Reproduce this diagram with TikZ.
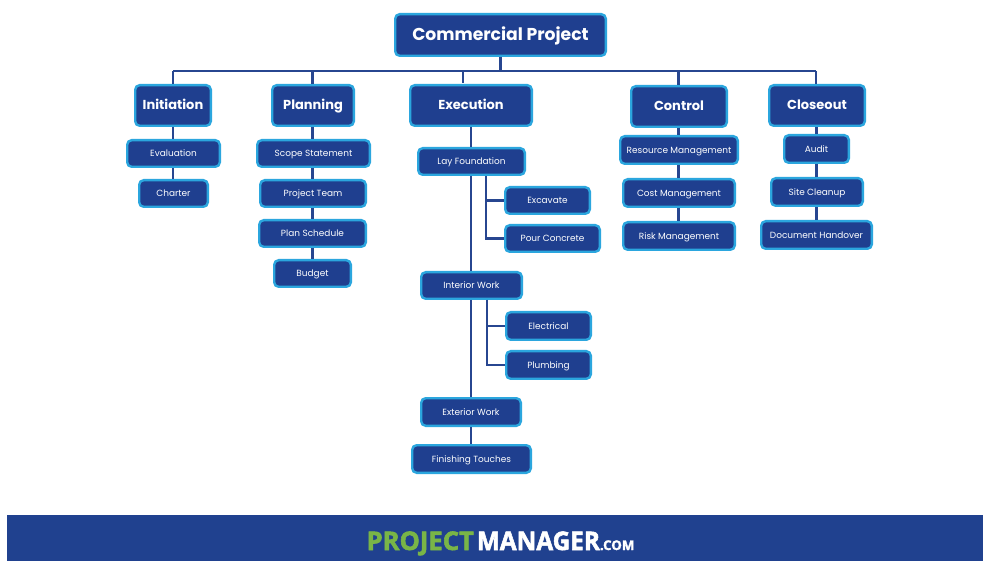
\documentclass[tikz,border=0pt]{standalone}
\usepackage{graphicx}
\usepackage{fontspec}
\setmainfont{Poppins}
\newfontfamily\logofont[BoldFeatures={FakeBold=2.2}]{Open Sans}
\definecolor{boxblue}{HTML}{1F3F8F}
\definecolor{edgeblue}{HTML}{2BA6DE}
\definecolor{linkblue}{HTML}{274690}
\definecolor{logogreen}{HTML}{79B547}
\definecolor{bandblue}{HTML}{20418F}
\tikzset{
  wbsbox/.style={draw=edgeblue,fill=boxblue,line width=2.4pt,rounded corners=4.5pt,text=white,align=center,inner sep=0pt},
  rootbox/.style={wbsbox,font=\fontsize{17.2}{20}\selectfont\bfseries,text height=14.5pt,text depth=4pt},
  phasebox/.style={wbsbox,font=\fontsize{13}{15}\selectfont\bfseries,text height=11.5pt,text depth=3pt},
  taskbox/.style={wbsbox,font=\fontsize{8.95}{10}\selectfont,text height=8.5pt,text depth=2pt},
  link/.style={draw=linkblue,line width=2.2pt},
}
% style, name, x1, y1, x2, y2, text
\newcommand{\bx}[7]{\node[#1,minimum width={(#5-#3-2.4)*1pt},minimum height={(#6-#4-2.4)*1pt}] (#2) at ({(#3+#5)/2},{(#4+#6)/2}) {#7};}
\begin{document}
\begin{tikzpicture}[x=1pt,y=-1pt]
\useasboundingbox (0,0) rectangle (983,561);
\fill[white] (0,0) rectangle (983,561);
\fill[bandblue] (7,515) rectangle (983,561);
\node[anchor=base,inner sep=0pt] (logo) at (500.5,550) {\logofont\bfseries\fontsize{25.6}{28}\selectfont\textcolor{logogreen}{PROJECT}\hspace{3pt}\textcolor{white}{\scalebox{0.95}[1]{MANAGER}\fontsize{13.3}{18}\selectfont.COM}};

\bx{rootbox}{root}{394}{13}{607}{57}{Commercial Project}
\bx{phasebox}{init}{134}{84}{212}{127}{Initiation}
\bx{phasebox}{plan}{271}{84}{355}{127}{Planning}
\bx{phasebox}{exec}{409}{84}{533}{127}{Execution}
\bx{phasebox}{ctrl}{630}{85}{728}{128}{Control}
\bx{phasebox}{close}{768}{84}{866}{127}{Closeout}

\bx{taskbox}{eval}{126}{139}{221}{168}{Evaluation}
\bx{taskbox}{chart}{138}{179}{209}{208}{Charter}

\bx{taskbox}{scope}{256}{139}{371}{168}{Scope Statement}
\bx{taskbox}{team}{259}{179}{367}{208}{Project Team}
\bx{taskbox}{sched}{258}{219}{367}{248}{Plan Schedule}
\bx{taskbox}{budget}{273}{259}{352}{288}{Budget}

\bx{taskbox}{lay}{417}{147}{526}{176}{Lay Foundation}
\bx{taskbox}{exc}{504}{186}{591}{215}{Excavate}
\bx{taskbox}{pour}{504}{224}{601}{253}{Pour Concrete}
\bx{taskbox}{inter}{420}{271}{523}{300}{Interior Work}
\bx{taskbox}{elec}{505}{311}{592}{341}{Electrical}
\bx{taskbox}{plumb}{505}{350}{592}{380}{Plumbing}
\bx{taskbox}{exter}{420}{397}{522}{427}{Exterior Work}
\bx{taskbox}{finish}{411}{444}{532}{474}{Finishing Touches}

\bx{taskbox}{res}{619}{135}{739}{165}{Resource Management}
\bx{taskbox}{cost}{622}{178}{736}{208}{Cost Management}
\bx{taskbox}{risk}{622}{221}{736}{251}{Risk Management}

\bx{taskbox}{audit}{783}{134}{850}{164}{Audit}
\bx{taskbox}{site}{770}{177}{864}{207}{Site Cleanup}
\bx{taskbox}{doc}{760}{220}{873}{250}{Document Handover}

% bus and free junctions
\coordinate (busl) at (173,71);
\coordinate (busr) at (816,71);
\coordinate (execin) at (463,83);
\coordinate (layout) at (486,176);
\coordinate (interout) at (487,300);
\coordinate (trunk) at (471,127);
\coordinate (plane) at (312.5,127);
\coordinate (ctrle) at (678.5,128);
\coordinate (closee) at (816.5,127);
\draw[link] (root.south) -- (root.south |- busl);
\draw[link] (busl) -- (busr);
\draw[link] (busl) -- (busl |- init.north);
\draw[link] (plan.north -| plane) -- (plane |- busl);
\draw[link] (execin) -- (execin |- busl);
\draw[link] (ctrl.north -| ctrle) -- (ctrle |- busl);
\draw[link] (busr) -- (busr |- close.north);

\draw[link] (busl |- init.south) -- (busl |- eval.north);
\draw[link] (busl |- eval.south) -- (busl |- chart.north);

\draw[link] (plane) -- (plane |- scope.north);
\draw[link] (plane |- scope.south) -- (plane |- team.north);
\draw[link] (plane |- team.south) -- (plane |- sched.north);
\draw[link] (plane |- sched.south) -- (plane |- budget.north);

\draw[link] (trunk) -- (trunk |- lay.north);
\draw[link] (trunk |- lay.south) -- (trunk |- inter.north);
\draw[link] (trunk |- inter.south) -- (trunk |- exter.north);
\draw[link] (trunk |- exter.south) -- (trunk |- finish.north);
\draw[link] (layout) |- (exc.west);
\draw[link] (layout) |- (pour.west);
\draw[link] (interout) |- (elec.west);
\draw[link] (interout) |- (plumb.west);

\draw[link] (ctrle) -- (ctrle |- res.north);
\draw[link] (ctrle |- res.south) -- (ctrle |- cost.north);
\draw[link] (ctrle |- cost.south) -- (ctrle |- risk.north);
\draw[link] (closee) -- (closee |- audit.north);
\draw[link] (closee |- audit.south) -- (closee |- site.north);
\draw[link] (closee |- site.south) -- (closee |- doc.north);
\end{tikzpicture}
\end{document}
